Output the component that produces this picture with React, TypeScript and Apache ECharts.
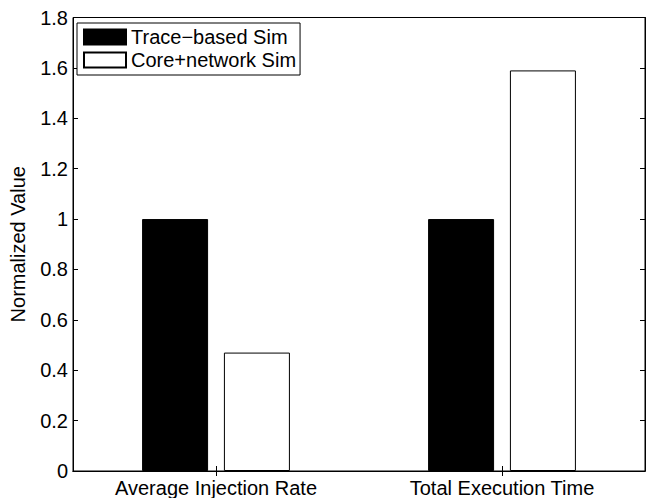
import React, { useEffect, useRef } from "react";
import * as echarts from "echarts";

const categories = ["Average Injection Rate", "Total Execution Time"];
const traceBased = [1, 1];
const coreNetwork = [0.47, 1.59];
const seriesNames = ["Trace−based Sim", "Core+network Sim"];
const yAxisName = "Normalized Value";

export default function App() {
  const ref = useRef<HTMLDivElement>(null);
  useEffect(() => {
    if (!ref.current) return;
    const chart = echarts.init(ref.current, null, { renderer: "svg" });
    const font = "'Liberation Sans', Arial, Helvetica, sans-serif";
    const fs = 20;
    const yCommon = {
      type: "value" as const,
      min: 0,
      max: 1.8,
      interval: 0.2,
      splitLine: { show: false },
    };
    chart.setOption({
      animation: false,
      backgroundColor: "#ffffff",
      textStyle: { fontFamily: font, color: "#000" },
      grid: {
        left: 70,
        right: 1,
        top: 17.5,
        bottom: 26.5,
        show: true,
        borderColor: "#000",
        borderWidth: 1,
        backgroundColor: "transparent",
      },
      legend: {
        orient: "vertical",
        left: 77,
        top: 23,
        itemWidth: 42,
        itemHeight: 15,
        itemGap: 3,
        padding: [4, 4, 5, 6],
        borderColor: "#000",
        borderWidth: 1,
        backgroundColor: "#fff",
        icon: "rect",
        textStyle: { fontSize: fs, fontFamily: font, color: "#000", lineHeight: 20 },
        data: seriesNames,
      },
      xAxis: [
        {
          type: "category",
          data: categories,
          position: "bottom",
          axisLine: { show: true, lineStyle: { color: "#000", width: 1 } },
          axisTick: { show: true, inside: true, length: 5, alignWithLabel: true, lineStyle: { color: "#000" } },
          axisLabel: { fontSize: fs, color: "#000", fontFamily: font, margin: 7 },
          splitLine: { show: false },
        },
        {
          type: "category",
          data: categories,
          position: "top",
          axisLine: { show: true, lineStyle: { color: "#000", width: 1 } },
          axisTick: { show: true, inside: true, length: 5, alignWithLabel: true, lineStyle: { color: "#000" } },
          axisLabel: { show: false },
          splitLine: { show: false },
        },
      ],
      yAxis: [
        {
          ...yCommon,
          position: "left",
          name: yAxisName,
          nameLocation: "middle",
          nameGap: 45,
          nameTextStyle: { fontSize: fs, color: "#000", fontFamily: font },
          axisLine: { show: true, lineStyle: { color: "#000", width: 1 } },
          axisTick: { show: true, inside: true, length: 5, lineStyle: { color: "#000" } },
          axisLabel: { fontSize: fs, color: "#000", fontFamily: font, margin: 5 },
        },
        {
          ...yCommon,
          position: "right",
          axisLine: { show: true, lineStyle: { color: "#000", width: 1 } },
          axisTick: { show: true, inside: true, length: 5, lineStyle: { color: "#000" } },
          axisLabel: { show: false },
        },
      ],
      series: [
        {
          name: seriesNames[0],
          type: "bar",
          data: traceBased,
          barWidth: 66,
          barGap: "24%",
          itemStyle: { color: "#000", borderColor: "#000", borderWidth: 1 },
        },
        {
          name: seriesNames[1],
          type: "bar",
          data: coreNetwork,
          barWidth: 66,
          barGap: "24%",
          itemStyle: { color: "#fff", borderColor: "#000", borderWidth: 1 },
        },
      ],
    });
    return () => chart.dispose();
  }, []);
  return (
    <div
      ref={ref}
      style={{ position: "fixed", left: 0, top: 0, width: 646, height: 498, background: "#fff" }}
    />
  );
}
